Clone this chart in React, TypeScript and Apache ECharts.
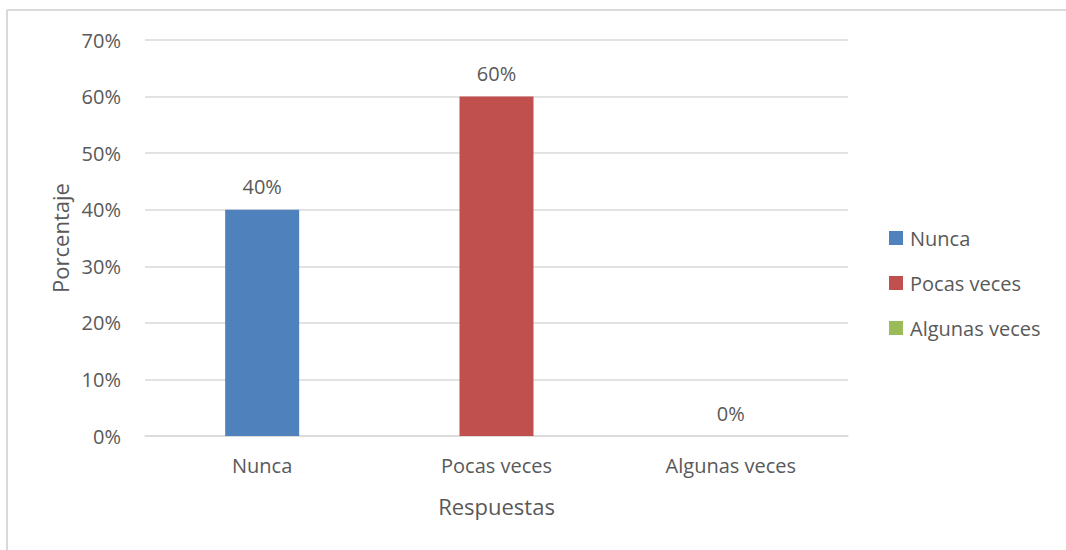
import React, { useEffect, useRef } from "react";
import * as echarts from "echarts";

const categories = ["Nunca", "Pocas veces", "Algunas veces"];
const values = [40, 60, 0];
const colors = ["#4f81bd", "#c0504d", "#9bbb59"];
const yTicks = { min: 0, max: 70, interval: 10 };

const FONT = "'Open Sans', 'Noto Sans', sans-serif";
const TXT = "#595959";

export default function App() {
  const ref = useRef<HTMLDivElement>(null);
  useEffect(() => {
    if (!ref.current) return;
    const chart = echarts.init(ref.current, null, { renderer: "svg" });
    const series = categories.map((name, i) => ({
      name,
      type: "bar",
      stack: "all",
      barWidth: 74,
      itemStyle: { color: colors[i] },
      label: {
        show: true,
        position: "top",
        distance: 13,
        formatter: "{c}%",
        color: TXT,
        fontFamily: FONT,
        fontSize: 20,
      },
      data: categories.map((_, j) => (j === i ? values[i] : "-")),
    }));
    chart.setOption({
      animation: false,
      backgroundColor: "#ffffff",
      textStyle: { fontFamily: FONT },
      grid: { left: 145, right: 218, top: 40, bottom: 114 },
      legend: {
        orient: "vertical",
        left: 889,
        top: 228,
        padding: 0,
        itemWidth: 14,
        itemHeight: 14,
        itemGap: 25,
        icon: "rect",
        data: categories,
        textStyle: { color: TXT, fontFamily: FONT, fontSize: 20, padding: [0, 0, 0, 2] },
      },
      xAxis: {
        type: "category",
        data: categories,
        name: "Respuestas",
        nameLocation: "middle",
        nameGap: 59,
        nameTextStyle: { color: TXT, fontSize: 22, fontFamily: FONT },
        axisTick: { show: false },
        axisLine: { lineStyle: { color: "#d9d9d9", width: 1.5 } },
        axisLabel: { color: TXT, fontSize: 20, fontFamily: FONT, margin: 19 },
      },
      yAxis: {
        type: "value",
        min: yTicks.min,
        max: yTicks.max,
        interval: yTicks.interval,
        name: "Porcentaje",
        nameLocation: "middle",
        nameGap: 72,
        nameTextStyle: { color: TXT, fontSize: 22, fontFamily: FONT },
        axisLabel: { color: TXT, fontSize: 20, fontFamily: FONT, margin: 24, formatter: "{value}%" },
        splitLine: { lineStyle: { color: "#d9d9d9", width: 1.5 } },
        axisLine: { show: false },
        axisTick: { show: false },
      },
      graphic: [
        { type: "line", shape: { x1: 7, y1: 10, x2: 1066, y2: 10 }, style: { stroke: "#d9d9d9", lineWidth: 2 } },
        { type: "line", shape: { x1: 7, y1: 10, x2: 7, y2: 550 }, style: { stroke: "#d9d9d9", lineWidth: 2 } },
      ],
      series,
    });
    return () => chart.dispose();
  }, []);
  return (
    <div
      ref={ref}
      style={{ position: "fixed", left: 0, top: 0, width: 1066, height: 550 }}
    />
  );
}
